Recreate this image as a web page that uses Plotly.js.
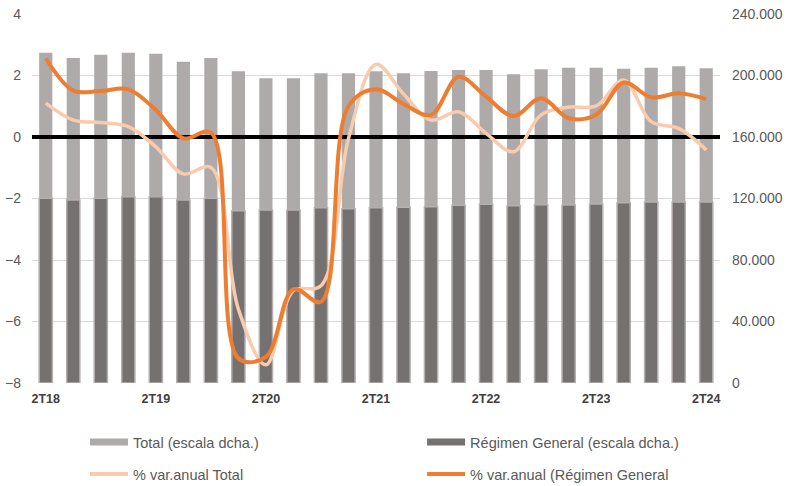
<!DOCTYPE html>
<html><head><meta charset="utf-8">
<script src="https://cdn.plot.ly/plotly-3.0.1.min.js"></script>
<style>html,body{margin:0;padding:0;background:#fff}#chart{width:803px;height:486px}</style>
</head><body><div id="chart"></div>
<script>
const categories = ['2T18','3T18','4T18','1T19','2T19','3T19','4T19','1T20','2T20','3T20','4T20','1T21','2T21','3T21','4T21','1T22','2T22','3T22','4T22','1T23','2T23','3T23','4T23','1T24','2T24'];
const tickLabels = ['2T18','2T19','2T20','2T21','2T22','2T23','2T24'];
const totalValues = [214800,211400,213500,214800,214200,209000,211400,202700,198200,198200,201400,201400,202700,201400,202900,203600,203600,200800,204000,205100,205100,204400,205100,206000,204700];
const regimenValues = [120100,119000,120100,121200,121200,119000,120100,112100,112500,112500,114000,113400,114000,114300,114700,115600,116200,115300,116000,115800,116400,117300,117700,117700,117700];
const totalPct = [1.10,0.55,0.47,0.34,-0.32,-1.20,-0.99,-5.6,-7.41,-5.0,-4.84,-0.05,2.36,1.4,0.55,0.82,0.12,-0.48,0.72,0.97,1.01,1.85,0.5,0.28,-0.42];
const regimenPct = [2.56,1.51,1.50,1.55,0.88,-0.04,0.14,-7.2,-7.15,-4.95,-5.36,1.0,1.55,1.07,0.72,1.96,1.31,0.68,1.26,0.61,0.72,1.77,1.29,1.42,1.23];
const seriesNames = ['Total (escala dcha.)','Régimen General (escala dcha.)','% var.anual Total','% var.anual (Régimen General'];

const C_TOTAL = '#aeaaaa', C_REG = '#767171', C_LT = '#f8cbad', C_OR = '#ed7d31';
const FONT = 'Liberation Sans, Arial, sans-serif';

const traces = [
  {type:'bar', x:categories, y:totalValues, xaxis:'x', yaxis:'y', width:0.48,
   marker:{color:C_TOTAL, line:{width:0}}, showlegend:false, hoverinfo:'skip'},
  {type:'bar', x:categories, y:regimenValues, xaxis:'x', yaxis:'y', width:0.48,
   marker:{color:C_REG, line:{color:'#b4b0b0', width:1.5}}, showlegend:false, hoverinfo:'skip'},
  {type:'scatter', mode:'lines', x:categories, y:totalPct, xaxis:'x2', yaxis:'y2',
   line:{color:C_LT, width:3.5, shape:'spline', smoothing:1}, showlegend:false, hoverinfo:'skip'},
  {type:'scatter', mode:'lines', x:categories, y:regimenPct, xaxis:'x2', yaxis:'y2',
   line:{color:C_OR, width:4, shape:'spline', smoothing:1}, showlegend:false, hoverinfo:'skip'},
  // legend entries (one legend box each, placed as in the reference)
  {type:'scatter', mode:'lines', x:[null], y:[null], xaxis:'x2', yaxis:'y2', name:seriesNames[0],
   line:{color:C_TOTAL, width:7}, legend:'legend'},
  {type:'scatter', mode:'lines', x:[null], y:[null], xaxis:'x2', yaxis:'y2', name:seriesNames[1],
   line:{color:C_REG, width:7}, legend:'legend2'},
  {type:'scatter', mode:'lines', x:[null], y:[null], xaxis:'x2', yaxis:'y2', name:seriesNames[2],
   line:{color:C_LT, width:4}, legend:'legend3'},
  {type:'scatter', mode:'lines', x:[null], y:[null], xaxis:'x2', yaxis:'y2', name:seriesNames[3],
   line:{color:C_OR, width:4}, legend:'legend4'}
];

const legendCommon = {orientation:'h', xanchor:'left', yanchor:'middle',
  font:{family:FONT, size:14.5, color:'#595959'},
  bgcolor:'rgba(0,0,0,0)', borderwidth:0, itemwidth:38};
const colL = 0.077, colR = 0.567, rowA = -0.16, rowB = -0.247;

const layout = {
  width:803, height:486,
  margin:{l:32, r:83, t:14, b:103, autoexpand:false},
  paper_bgcolor:'#ffffff', plot_bgcolor:'rgba(0,0,0,0)',
  separators:',.',
  barmode:'overlay',
  font:{family:FONT, color:'#595959'},
  xaxis:{type:'category', domain:[0,1], anchor:'y', range:[-0.5, categories.length-0.5],
    tickmode:'array', tickvals:tickLabels, ticktext:tickLabels, ticks:'', showgrid:false, showline:false,
    zeroline:false, ticklabelstandoff:6,
    tickfont:{family:FONT, size:12.5, color:'#404040', weight:'bold'}},
  yaxis:{side:'right', anchor:'x', domain:[0,1], range:[0,240000], dtick:40000, tickformat:',d',
    showgrid:true, gridcolor:'#d9d9d9', gridwidth:1, zeroline:false, showline:false, ticks:'',
    ticklabelstandoff:11, tickfont:{family:FONT, size:14, color:'#595959'}},
  xaxis2:{type:'category', domain:[0,1], anchor:'y2', range:[-0.5, categories.length-0.5], visible:false,
    categoryorder:'array', categoryarray:categories},
  yaxis2:{side:'left', anchor:'x2', domain:[0,1], range:[-8,4], dtick:2, showgrid:false,
    zeroline:true, zerolinecolor:'#000000', zerolinewidth:3.5, showline:false, ticks:'',
    ticklabelstandoff:10, tickfont:{family:FONT, size:14, color:'#595959'}},
  legend:Object.assign({}, legendCommon, {x:colL, y:rowA}),
  legend2:Object.assign({}, legendCommon, {x:colR, y:rowA}),
  legend3:Object.assign({}, legendCommon, {x:colL, y:rowB}),
  legend4:Object.assign({}, legendCommon, {x:colR, y:rowB}),
  showlegend:true
};

Plotly.newPlot('chart', traces, layout, {displayModeBar:false, staticPlot:true});
</script>
</body></html>
